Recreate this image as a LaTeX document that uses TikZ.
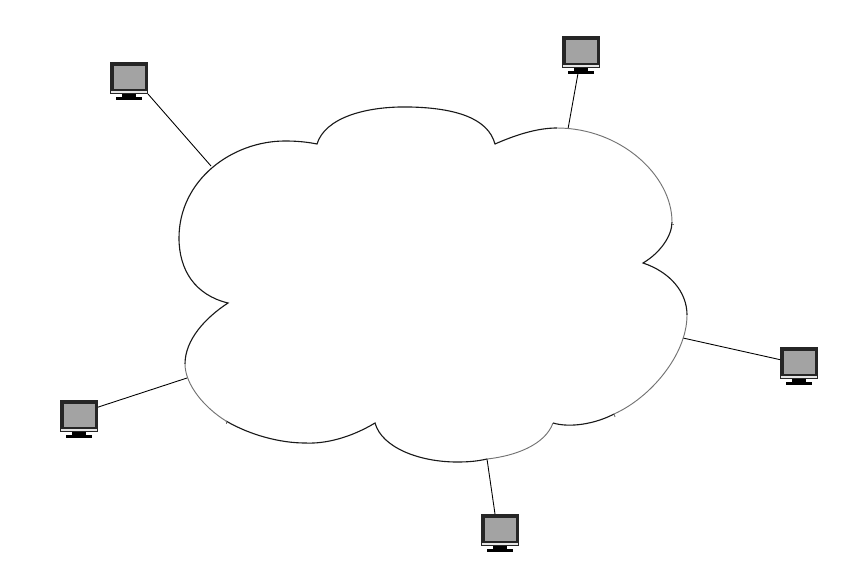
\documentclass[tikz,border=0pt]{standalone}
\usepackage{tikz}
\usetikzlibrary{
        positioning
    }
\definecolor{screengray}{gray}{0.64}
\tikzset{
    monitor/.style={rectangle,fill=black!85,inner sep=0pt,outer sep=0pt,minimum width=11.4mm,minimum height=9.6mm,
        path picture={
            \fill[screengray] ([xshift=1.2mm,yshift=-1.2mm]path picture bounding box.north west) rectangle ([xshift=-.9mm,yshift=1.5mm]path picture bounding box.south east);
            \fill[white!90!black] ([xshift=.4mm,yshift=.4mm]path picture bounding box.south west) rectangle ([xshift=-.4mm,yshift=1mm]path picture bounding box.south east);
        }},
    monneck/.style={rectangle,fill=black,inner sep=0pt,outer sep=0pt,minimum width=4.2mm,minimum height=.8mm},
    monbase/.style={rectangle,fill=black,inner sep=0pt,outer sep=0pt,minimum width=7.8mm,minimum height=1.1mm},
    cloudline/.style={line width=.95pt,black!90},
    cloudfade/.style={line width=.8pt,black!55},
    wire/.style={line width=.75pt,black}
}

\begin{document}
\begin{tikzpicture}[x=.3mm,y=-.3mm]
        \useasboundingbox (0,0) rectangle (864,576);
        % where the wires meet the cloud
        \coordinate (c1) at (211,166);
        \coordinate (c2) at (568,129);
        \coordinate (c3) at (683,338);
        \coordinate (c4) at (487,459);
        \coordinate (c5) at (187,378);

        \node[monitor] (pc1) at (129,78) {};
        \node[monneck,below=0pt of pc1] (pc1n) {};
        \node[monbase,below=0pt of pc1n] (pc1b) {};
        \node[monitor] (pc2) at (581,52) {};
        \node[monneck,below=0pt of pc2] (pc2n) {};
        \node[monbase,below=0pt of pc2n] (pc2b) {};
        \node[monitor] (pc3) at (799,363) {};
        \node[monneck,below=0pt of pc3] (pc3n) {};
        \node[monbase,below=0pt of pc3n] (pc3b) {};
        \node[monitor] (pc4) at (500,530) {};
        \node[monneck,below=0pt of pc4] (pc4n) {};
        \node[monbase,below=0pt of pc4n] (pc4b) {};
        \node[monitor] (pc5) at (79,416) {};
        \node[monneck,below=0pt of pc5] (pc5n) {};
        \node[monbase,below=0pt of pc5n] (pc5b) {};

        \draw[wire] (pc1.south east) -- (c1);
        \draw[wire] (pc2b.south) ++(-3,-1) -- (c2);
        \draw[wire] (pc3.170) -- (c3);
        \draw[wire] (pc4.north) ++(-5,0) -- (c4);
        \draw[wire] (pc5.25) -- (c5);

        % cloud, lobe by lobe
        \draw[cloudline] (557,128) .. controls (540,128) and (520,133) .. (495,144)
            .. controls (488,118) and (455,108) .. (410,107)
            .. controls (365,106) and (325,118) .. (317,144)
            .. controls (307,142) and (297,141) .. (285,141)
            .. controls (232,141) and (179,180) .. (179,238)
            .. controls (179,270) and (195,295) .. (228,303)
            .. controls (205,318) and (185,340) .. (185,364);
        \draw[cloudfade] (185,364) .. controls (185,385) and (205,408) .. (226,421);
        \draw[cloudline] (226,421) .. controls (250,435) and (280,443) .. (305,443)
            .. controls (325,444) and (350,438) .. (375,423)
            .. controls (382,448) and (420,462) .. (457,462)
            .. controls (470,462) and (478,461) .. (487,459);
        \draw[cloudfade] (487,459) .. controls (515,456) and (545,445) .. (553,423);
        \draw[cloudline] (553,423) .. controls (570,428) and (595,424) .. (614,414);
        \draw[cloudfade] (614,414) .. controls (650,398) and (687,355) .. (687,315);
        \draw[cloudline] (687,315) .. controls (687,292) and (670,272) .. (643,263)
            .. controls (660,253) and (672,236) .. (672,222);
        \draw[cloudfade] (672,222) .. controls (672,175) and (620,128) .. (557,128);

        % stray ticks on the outline
        \draw[cloudfade] (672,224) -- (674,224);
        \draw[cloudfade] (226,421) -- (226,424);
        \draw[cloudfade] (614,414) -- (615,417);
    \end{tikzpicture}
\end{document}
